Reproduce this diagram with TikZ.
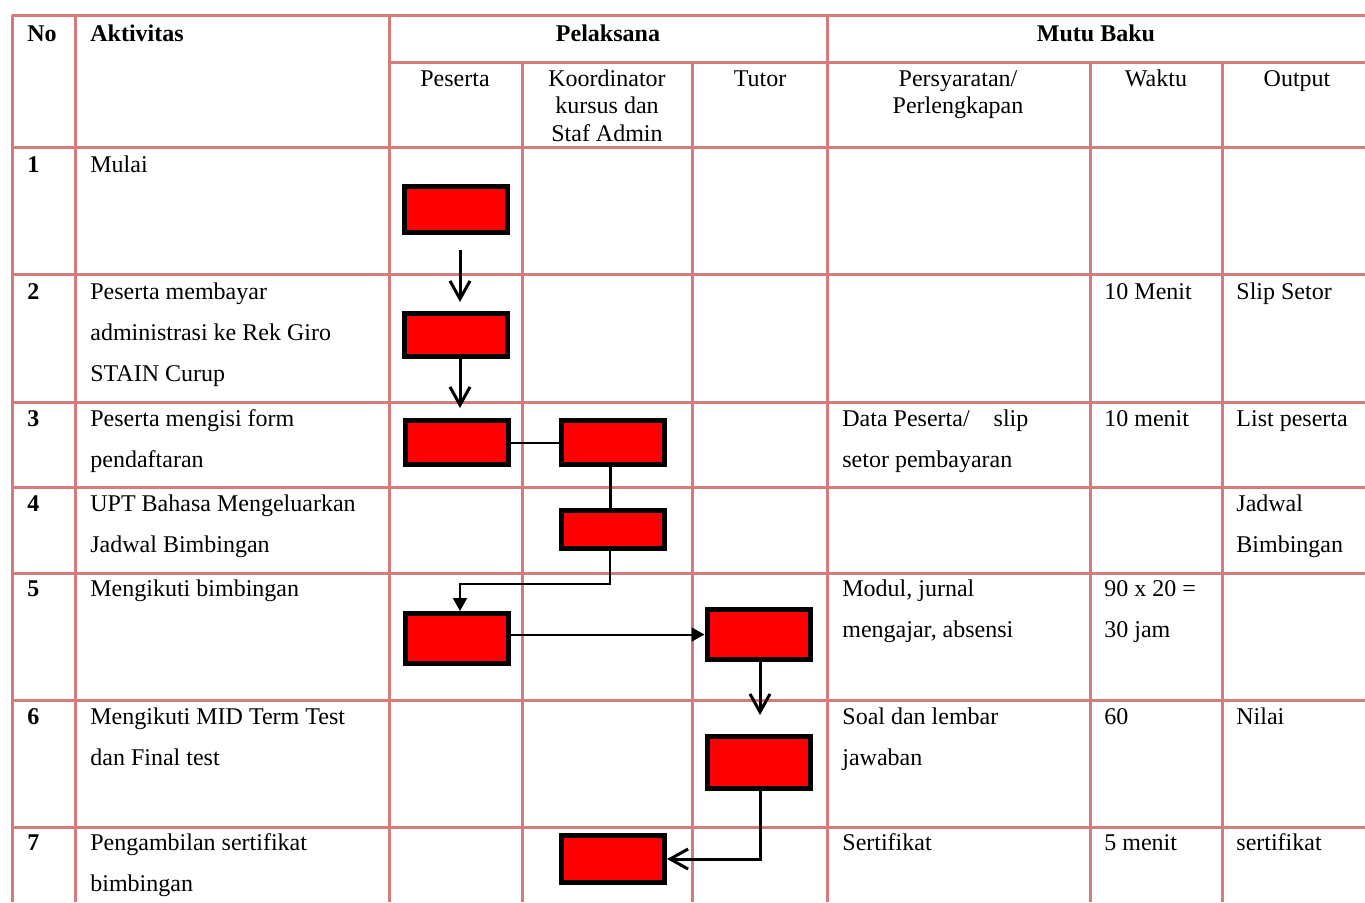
\documentclass[tikz,border=0pt]{standalone}
\usepackage{fontspec}
\setmainfont{Liberation Serif}
\usetikzlibrary{arrows.meta,positioning,calc}
\definecolor{gridRose} {RGB}{212,124,124}
\definecolor{boxRed}   {RGB}{255,0,0}

\newcommand{\leftlines}[1]{\begin{tabular}[t]{@{}l@{}}#1\end{tabular}}
\newcommand{\midlines}[1]{\begin{tabular}[t]{@{}c@{}}#1\end{tabular}}

\tikzset{
  gridline/.style={draw=gridRose,line width=1.5pt},
  flowbox/.style={draw=black,fill=boxRed,line width=2.5pt,inner sep=0pt,
                  minimum width=51.5pt,minimum height=23pt},
  cell/.style={anchor=base west,inner sep=0pt,
               font=\fontsize{12}{20.5}\selectfont},
  headcell/.style={anchor=base,inner sep=0pt,
                   font=\fontsize{12}{13.75}\selectfont},
  boldcell/.style={font=\fontsize{12}{14}\selectfont\bfseries},
  thickflow/.style={line width=1.5pt,-{Straight Barb[length=9pt,width=10pt]}},
  thinflow/.style={line width=1pt,-{Triangle[length=6.5pt,width=7pt]}},
}

\begin{document}
\begin{tikzpicture}[x=0.5pt,y=-0.5pt]

    \useasboundingbox (0,0) rectangle (1365,902);

    % ── GARIS TABEL ───────────────────────────────────────
    \draw[gridline] (12,15) -- (1365,15);
    \draw[gridline] (389,62) -- (1365,62);
    \draw[gridline] (12,147) -- (1365,147);
    \draw[gridline] (12,274) -- (1365,274);
    \draw[gridline] (12,402) -- (1365,402);
    \draw[gridline] (12,487) -- (1365,487);
    \draw[gridline] (12,573) -- (1365,573);
    \draw[gridline] (12,700) -- (1365,700);
    \draw[gridline] (12,827) -- (1365,827);

    \draw[gridline] (12,15) -- (12,902);
    \draw[gridline] (75,15) -- (75,902);
    \draw[gridline] (389,15) -- (389,902);
    \draw[gridline] (522,62) -- (522,902);
    \draw[gridline] (692,62) -- (692,902);
    \draw[gridline] (827,15) -- (827,902);
    \draw[gridline] (1090,62) -- (1090,902);
    \draw[gridline] (1222,62) -- (1222,902);

    % ── KEPALA TABEL ──────────────────────────────────────
    \node[cell,boldcell] (hNo)  at (27,41) {No};
    \node[cell,boldcell] (hAkt) at (90,41) {Aktivitas};
    \node[headcell,boldcell] (hPel) at (608,41) {Pelaksana};
    \node[headcell,boldcell] (hMutu) at (1096,41) {Mutu Baku};

    \node[headcell] (hPes)   at (455,86)  {Peserta};
    \node[headcell] (hKoor)  at (607,86)  {\midlines{Koordinator\\kursus dan\\Staf Admin}};
    \node[headcell] (hTutor) at (760,86)  {Tutor};
    \node[headcell] (hSyarat) at (958,86) {\midlines{Persyaratan/\\Perlengkapan}};
    \node[headcell] (hWaktu) at (1156,86) {Waktu};
    \node[headcell] (hOut)   at (1297,86) {Output};

    % ── NOMOR ─────────────────────────────────────────────
    \node[cell,boldcell] (no1) at (27,172) {1};
    \node[cell,boldcell] (no2) at (27,299) {2};
    \node[cell,boldcell] (no3) at (27,426) {3};
    \node[cell,boldcell] (no4) at (27,511) {4};
    \node[cell,boldcell] (no5) at (27,596) {5};
    \node[cell,boldcell] (no6) at (27,724) {6};
    \node[cell,boldcell] (no7) at (27,850) {7};

    % ── AKTIVITAS ─────────────────────────────────────────
    \node[cell] (akt1) at (90,172) {Mulai};
    \node[cell] (akt2) at (90,299) {\leftlines{Peserta membayar\\administrasi ke Rek Giro\\STAIN Curup}};
    \node[cell] (akt3) at (90,426) {\leftlines{Peserta mengisi form\\pendaftaran}};
    \node[cell] (akt4) at (90,511) {\leftlines{UPT Bahasa Mengeluarkan\\Jadwal Bimbingan}};
    \node[cell] (akt5) at (90,596) {Mengikuti bimbingan};
    \node[cell] (akt6) at (90,724) {\leftlines{Mengikuti MID Term Test\\dan Final test}};
    \node[cell] (akt7) at (90,850) {\leftlines{Pengambilan sertifikat\\bimbingan}};

    % ── MUTU BAKU ─────────────────────────────────────────
    \node[cell] (syr3) at (842,426) {\leftlines{Data Peserta/\ \ \ \ slip\\setor pembayaran}};
    \node[cell] (syr5) at (842,596) {\leftlines{Modul, jurnal\\mengajar, absensi}};
    \node[cell] (syr6) at (842,724) {\leftlines{Soal dan lembar\\jawaban}};
    \node[cell] (syr7) at (842,850) {Sertifikat};

    \node[cell] (wkt2) at (1104,299) {10 Menit};
    \node[cell] (wkt3) at (1104,426) {10 menit};
    \node[cell] (wkt5) at (1104,596) {\leftlines{90 x 20 =\\30 jam}};
    \node[cell] (wkt6) at (1104,724) {60};
    \node[cell] (wkt7) at (1104,850) {5 menit};

    \node[cell] (out2) at (1236,299) {Slip Setor};
    \node[cell] (out3) at (1236,426) {List peserta};
    \node[cell] (out4) at (1236,511) {\leftlines{Jadwal\\Bimbingan}};
    \node[cell] (out6) at (1236,724) {Nilai};
    \node[cell] (out7) at (1236,850) {sertifikat};

    % ── KOTAK ALUR ────────────────────────────────────────
    \node[flowbox] (mulai)   at (456,209.5) {};
    \node[flowbox,minimum height=21.5pt] (bayar) at (456,335) {};
    \node[flowbox,minimum height=22pt] (isi)   at (457,442.5) {};
    \node[flowbox,minimum height=22pt] (terima) at (613,442.5) {};
    \node[flowbox,minimum height=19pt] (jadwal) at (612.5,529.5) {};
    \node[flowbox,minimum height=25pt] (ikut)   at (457,638.5) {};
    \node[flowbox,minimum height=25pt] (ajar)   at (758.5,634.5) {};
    \node[flowbox,minimum height=26pt] (tes)    at (759,762.5) {};
    \node[flowbox,minimum height=23.5pt] (serti) at (613,859) {};

    % ── PANAH ─────────────────────────────────────────────
    \draw[thickflow,shorten <=7.5pt,shorten >=4.5pt]
      ([xshift=2pt]mulai.south) -- ([xshift=2pt]bayar.north);
    \draw[thickflow,shorten >=5pt]
      ([xshift=2pt]bayar.south) -- ([xshift=1.5pt]isi.north);
    \draw[line width=1pt] (isi.east) -- (terima.west);
    \draw[line width=1.5pt] ([xshift=-1.5pt]terima.south) -- ([xshift=-1.25pt]jadwal.north);
    \draw[thinflow] ([xshift=-1.25pt]jadwal.south) -- ++(0,33) -| ([xshift=1.5pt]ikut.north);
    \draw[thinflow] (ikut.east |- ajar.west) -- (ajar.west);
    \draw[thickflow,shorten >=9.5pt] ([xshift=0.75pt]ajar.south) -- ([xshift=0.5pt]tes.north);
    \draw[thickflow] ([xshift=0.5pt]tes.south) |- (serti.east);

\end{tikzpicture}
\end{document}
